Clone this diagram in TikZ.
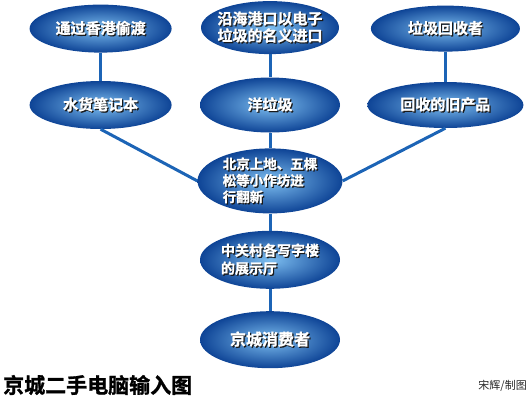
\documentclass[tikz,border=0pt]{standalone}
\usepackage{fontspec}
\setmainfont{Noto Sans CJK SC}[BoldFont={Noto Sans CJK SC Bold},BoldFeatures={FakeBold=1.2}]
\usepackage{tikz}
\usetikzlibrary{positioning,shapes.geometric}
\definecolor{lineblue}{RGB}{28,100,182}
\definecolor{rimblue}{RGB}{14,68,150}
\definecolor{coreblue}{RGB}{125,190,240}
\newcommand\shd[1]{\makebox[0pt][l]{\hspace{1.2pt}\raisebox{-1.2pt}{\color{black!90}#1}}#1}
\tikzset{main node/.style={ellipse,shade,shading=radial,inner color=coreblue,outer color=rimblue,
            inner sep=-14pt,minimum width=140pt,minimum height=48pt,text=white,
            font=\fontsize{15}{17}\selectfont\bfseries,align=center},
         small node/.style={main node,font=\fontsize{13.5}{16.5}\selectfont\bfseries,align=left},
            }

\begin{document}
\begin{tikzpicture}[x=1pt,y=1pt]
    \useasboundingbox (0,0) rectangle (530,-400);
    \node[main node,minimum height=55pt] (5) at (270,-105) {\shd{洋垃圾}};
    \node[main node,minimum width=142pt,minimum height=48pt] (4) [left =28pt of 5] {\shd{水货笔记本}};
    \node[main node,minimum width=156pt,minimum height=46pt] (6) [right =27pt of 5] {\shd{回收的旧产品}};
    \node[main node,minimum width=142pt] (1) [above =28pt of 4] {\shd{通过香港偷渡}};
    \node[main node,minimum width=138pt,minimum height=53pt] (2) [above =23pt of 5] {\shd{沿海港口以电子}\\\shd{垃圾的名义进口}};
    \node[main node,minimum width=149pt,minimum height=46pt] (3) [above =30pt of 6] {\shd{垃圾回收者}};
    \node[small node,minimum width=145pt,minimum height=65pt] (7) [below =15.5pt of 5] {\shd{北京上地、五棵}\\\shd{松等小作坊进}\\\shd{行翻新}};
    \node[small node,minimum width=140pt,minimum height=58pt,font=\fontsize{14}{18}\selectfont\bfseries] (8) [below =17pt of 7] {\shd{中关村各写字楼}\\\shd{的展示厅}};
    \node[main node,minimum width=140pt,minimum height=57pt,font=\fontsize{16}{18}\selectfont\bfseries] (9) [below =22pt of 8] {\shd{京城消费者}};

    \path[draw,line width=3pt,lineblue]
    (1) edge node {} (4)
    (2) edge node {} (5)
    (3) edge node {} (6)
    (5) edge node {} (7)
    (4.south) edge node {} (7.west)
    (6.south) edge node {} (7.east)
    (7) edge node {} (8)
    (8) edge node {} (9)
    ;
    \node[anchor=west,inner sep=0pt,font=\fontsize{21}{23}\selectfont\bfseries] (10) at (3,-385) {京城二手电脑输入图};
    \node[anchor=east,inner sep=0pt,font=\fontsize{11}{13}\selectfont,text=black!85] (11) at (527,-386) {宋辉/制图};
    %%
\end{tikzpicture}
\end{document}
